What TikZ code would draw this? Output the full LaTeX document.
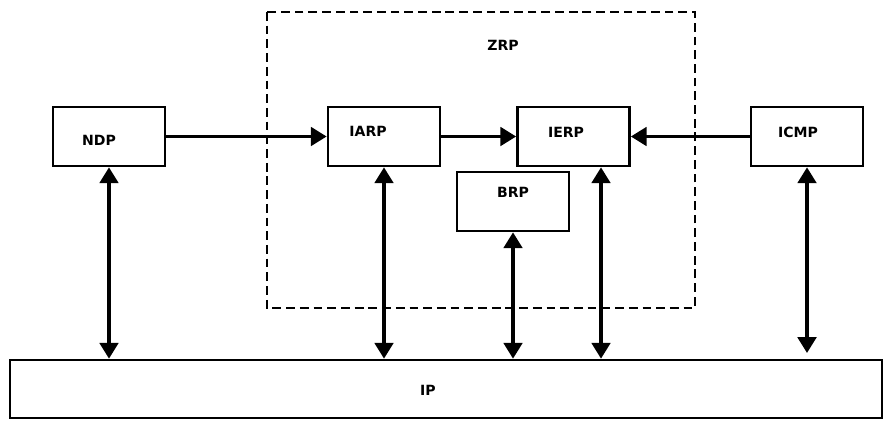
\documentclass[tikz,border=0pt]{standalone}
\usepackage{fontspec}
\setsansfont{DejaVu Sans}
\usepackage{tikz}
\usetikzlibrary{calc}
\usetikzlibrary{arrows.meta,positioning}

\begin{document}
\begin{tikzpicture}[x=0.02cm, y=-0.02cm,
    box/.style={rectangle,draw=black,line width=1.5pt,minimum width=112*0.02cm,minimum height=59*0.02cm,inner sep=0pt},
    lbl/.style={font=\sffamily\bfseries\fontsize{8}{9}\selectfont},
    link/.style={line width=2pt,-{Triangle[length=9pt,width=10.5pt]}},
    both/.style={line width=2pt,{Triangle[length=9pt,width=10.5pt]}-{Triangle[length=9pt,width=10.5pt]}}]
    \useasboundingbox (0,0) rectangle (884,420);
    % zone routing frame
    \draw[dash pattern=on 5pt off 2.8pt,line width=1.5pt] (267,12) rectangle (695,308);
    \node[lbl] (zrp) at (503,45) {ZRP};
    \node[box] (ndp) at (109,136.5) {};
    \node[lbl] (ndpl) at (99,140) {NDP};
    \node[box] (iarp) at (384,136.5) {};
    \node[lbl] (iarpl) at (368,131) {IARP};
    \node[box] (ierp) at (573.5,136.5) {};
    \node[lbl] (ierpl) at (566,132) {IERP};
    \node[box] (icmp) at (807,136.5) {};
    \node[lbl] (icmpl) at (798,132) {ICMP};
    \node[box] (brp) at (513,201.5) {};
    \node[lbl] (brpl) at (513,192) {BRP};
    \node[box,minimum width=872*0.02cm,minimum height=58*0.02cm] (ip) at (446,389) {};
    \node[lbl] (ipl) at (428,390) {IP};
    % horizontal links
    \draw[link] (ndp) -- (iarp);
    \draw[link] (iarp) -- (ierp);
    \draw[link] (icmp) -- (ierp);
    % links to IP
    \draw[both] (ndp.south) -- (ndp.south |- ip.north);
    \draw[both] (iarp.south) -- (iarp.south |- ip.north);
    \draw[both] (brp.south) -- (brp.south |- ip.north);
    \coordinate (ierpb) at ($(ierp.south)+(27.5,0)$);
    \draw[both] (ierpb) -- (ierpb |- ip.north);
    \coordinate (icmpend) at (806,353);
    \draw[both] (icmp.south) -- (icmp.south |- icmpend);
\end{tikzpicture}
\end{document}
